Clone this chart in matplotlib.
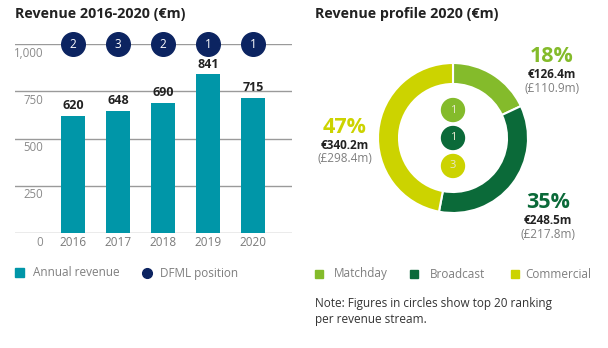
import matplotlib
matplotlib.use("Agg")
import matplotlib.pyplot as plt
from matplotlib.patches import Circle, Rectangle

plt.rcParams['font.family'] = ['Open Sans', 'DejaVu Sans']

# data
years = ['2016', '2017', '2018', '2019', '2020']
revenue = [620, 648, 690, 841, 715]
dfml_position = [2, 3, 2, 1, 1]
y_ticks = [0, 250, 500, 750, 1000]
y_tick_labels = ['0', '250', '500', '750', '1,000']

streams = ['Matchday', 'Broadcast', 'Commercial']
shares = [18, 35, 47]
eur_m = [126.4, 248.5, 340.2]
gbp_m = [110.9, 217.8, 298.4]
stream_rank = [1, 1, 3]

# colours
teal = '#0096a8'
navy = '#0c2461'
greens = ['#84bb2b', '#0b6a39', '#ccd300']
dark = '#222222'
grey = '#7f7f7f'
grid = '#9a9a9a'

W, H = 608, 348
fig = plt.figure(figsize=(W / 100, H / 100), dpi=100)

def px(x, y):
    # pixel position (from top-left) -> figure fraction
    return x / W, 1 - y / H

def box(x0, y0, x1, y1):
    return [x0 / W, 1 - y1 / H, (x1 - x0) / W, (y1 - y0) / H]

# ---- left: revenue bars ----
ax = fig.add_axes(box(15, 44, 292, 233))
xs = range(len(years))
ax.bar(xs, revenue, width=0.53, color=teal, zorder=2)
ax.set_xlim(-1.289, 4.867)
ax.set_ylim(0, 1000)
for v in y_ticks:
    ax.axhline(v, color=grid, lw=1.0, zorder=1)
for v, lab in zip(y_ticks, y_tick_labels):
    ax.annotate(lab, xy=(0, v), xycoords=('axes fraction', 'data'),
                xytext=(20.5, -6.5), textcoords='offset points',
                ha='right', va='center', fontsize=8.3, color='#8a8a8a')
for x, v in zip(xs, revenue):
    ax.annotate(str(v), xy=(x, v), xytext=(0, 2.5), textcoords='offset points',
                ha='center', va='bottom', fontsize=9, fontweight='bold', color=dark)
for x, p in zip(xs, dfml_position):
    ax.plot(x, 1000, 'o', ms=17, color=navy, clip_on=False, zorder=3)
    ax.text(x, 1000, str(p), ha='center', va='center', fontsize=8.5,
            color='white', zorder=4)
ax.set_xticks(list(xs))
ax.set_xticklabels(years, fontsize=8.5, color='#7a7a7a')
ax.tick_params(axis='x', length=0, pad=2.5)
ax.set_yticks([])
for s in ax.spines.values():
    s.set_visible(False)
ax.patch.set_visible(False)

fig.text(*px(15, 14), 'Revenue 2016-2020 (€m)', fontsize=10.3, fontweight='bold',
         color=dark, va='center')

# left legend
fig.patches.append(Rectangle(px(15, 277), 9 / W, 9 / H, transform=fig.transFigure,
                             color=teal, figure=fig))
fig.text(*px(33, 273), 'Annual revenue', fontsize=8.5, color=grey, va='center')
fig.lines.append(plt.Line2D([147 / W], [1 - 273 / H], marker='o', ms=7, color=navy,
                            transform=fig.transFigure, figure=fig))
fig.text(*px(160, 273), 'DFML position', fontsize=8.5, color=grey, va='center')

# ---- right: revenue profile donut ----
ax2 = fig.add_axes(box(378, 63, 528, 213))
ax2.pie(shares, colors=greens, startangle=90, counterclock=False, radius=1,
        wedgeprops=dict(width=0.28, edgecolor='white', linewidth=1.5))
ax2.set_xlim(-1, 1)
ax2.set_ylim(-1, 1)
ax2.set_aspect('equal')
ax2.axis('off')
for i, (r, c) in enumerate(zip(stream_rank, greens)):
    cy = 0.373 * (1 - i)
    ax2.add_patch(Circle((0, cy), 0.153, color=c, zorder=3))
    ax2.text(0, cy, str(r), ha='center', va='center', fontsize=8,
             color='#e8e8d0', zorder=4)

fig.text(*px(315, 14), 'Revenue profile 2020 (€m)', fontsize=10.3, fontweight='bold',
         color=dark, va='center')

# percentage labels around the ring
label_pos = [(552, 57), (548, 202), (345, 127)]
for (lx, ly), s, e, g, c in zip(label_pos, shares, eur_m, gbp_m, greens):
    fig.text(*px(lx, ly), f'{s}%', fontsize=15.5, fontweight='bold', color=c,
             ha='center', va='center')
    fig.text(*px(lx, ly + 18), f'€{e:.1f}m', fontsize=8.5, fontweight='bold',
             color=dark, ha='center', va='center')
    fig.text(*px(lx, ly + 32), f'(£{g:.1f}m)', fontsize=8.5, color=grey,
             ha='center', va='center')

# right legend
leg_x = [(315, 334), (410, 430), (511, 525)]
for (sx, tx), name, c in zip(leg_x, streams, greens):
    fig.patches.append(Rectangle(px(sx, 278), 8 / W, 8 / H, transform=fig.transFigure,
                                 color=c, figure=fig))
    fig.text(*px(tx, 274), name, fontsize=8.5, color=grey, va='center')

fig.text(*px(315, 303), 'Note: Figures in circles show top 20 ranking',
         fontsize=8.5, color='#333333', va='center')
fig.text(*px(315, 320), 'per revenue stream.', fontsize=8.5, color='#333333',
         va='center')

fig.savefig('out.png', dpi=100)
